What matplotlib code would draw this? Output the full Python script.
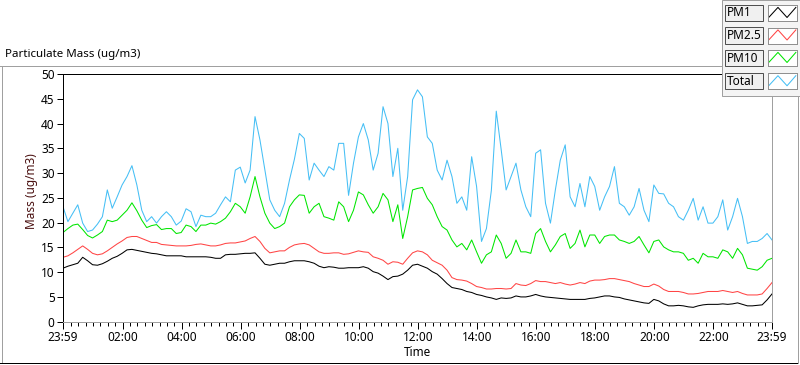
import matplotlib
matplotlib.use("Agg")
import matplotlib.pyplot as plt
from matplotlib.patches import Rectangle
from matplotlib.lines import Line2D

# ── Data (minutes after 23:59, 10-min steps) ─────────────────────────────────
MINUTES = list(range(0, 1441, 10))

TOTAL = [
    23.2, 20.2, 21.9, 23.6, 19.9, 18.2, 18.5, 19.7, 21.2, 26.6, 22.9, 25.2,
    27.6, 29.3, 31.5, 27.6, 22.5, 20.2, 21.2, 19.9, 21.2, 22.2, 21.2, 19.5,
    20.3, 22.8, 22.2, 19.2, 21.5, 21.2, 21.2, 21.9, 23.6, 25.2, 24.2, 30.6,
    31.2, 28.0, 30.6, 41.4, 36.7, 30.6, 24.6, 22.5, 21.2, 23.9, 28.6, 32.8,
    38.0, 37.0, 28.6, 32.0, 30.6, 29.3, 31.3, 30.6, 36.0, 36.0, 25.5, 32.0,
    37.3, 40.0, 36.7, 30.6, 34.0, 43.4, 40.0, 29.3, 35.0, 22.5, 29.3, 44.8,
    46.8, 45.4, 37.3, 36.0, 30.6, 28.6, 32.6, 29.3, 23.9, 25.2, 22.5, 33.3,
    27.3, 16.2, 18.8, 26.5, 42.5, 34.7, 26.6, 29.3, 32.0, 26.6, 23.2, 21.2,
    34.0, 34.7, 23.9, 19.9, 26.6, 32.6, 35.7, 25.2, 23.2, 27.9, 23.2, 29.3,
    27.3, 22.5, 25.2, 27.3, 31.3, 23.9, 23.2, 21.5, 23.2, 26.9, 22.5, 20.2,
    27.6, 25.9, 25.8, 23.9, 23.2, 21.2, 20.5, 22.5, 24.9, 20.5, 23.2, 19.9,
    19.9, 21.2, 24.6, 18.5, 21.2, 24.9, 21.2, 15.8, 16.2, 16.2, 16.8, 17.8,
    16.5,
]

PM10 = [
    18.0, 18.8, 19.5, 19.7, 18.6, 17.4, 16.9, 17.5, 18.2, 20.5, 20.2, 20.5,
    21.5, 22.5, 24.0, 22.4, 20.5, 19.0, 19.4, 19.6, 18.6, 18.8, 18.8, 17.8,
    18.0, 19.5, 19.2, 18.2, 19.5, 19.5, 19.9, 19.7, 20.2, 20.9, 22.2, 23.9,
    23.2, 21.9, 25.2, 29.3, 25.2, 21.9, 19.9, 18.8, 19.2, 19.9, 23.2, 24.6,
    25.6, 25.5, 21.9, 23.2, 23.9, 21.2, 20.9, 20.5, 24.2, 23.2, 20.2, 22.5,
    26.2, 25.6, 23.6, 21.9, 23.2, 25.9, 24.6, 20.2, 23.6, 16.8, 21.2, 26.6,
    26.9, 27.1, 24.9, 23.6, 21.2, 19.2, 18.5, 16.5, 15.1, 15.8, 14.5, 16.5,
    14.1, 11.8, 13.5, 14.1, 17.5, 15.8, 12.8, 13.8, 16.5, 14.1, 14.1, 13.8,
    17.8, 18.8, 16.2, 14.1, 15.5, 17.2, 17.8, 14.8, 15.8, 18.5, 15.1, 17.5,
    17.5, 15.8, 17.2, 17.5, 17.5, 16.5, 16.2, 15.8, 16.2, 17.2, 15.5, 13.9,
    16.2, 16.5, 15.1, 14.5, 14.1, 14.1, 13.8, 12.4, 12.8, 11.8, 13.8, 13.1,
    13.1, 12.8, 14.5, 14.1, 12.8, 14.8, 13.5, 10.8, 10.6, 10.4, 11.1, 12.4,
    12.8,
]

PM25 = [
    13.0, 13.3, 13.9, 14.6, 15.3, 14.6, 13.8, 13.5, 13.7, 14.3, 15.0, 15.7,
    16.3, 17.0, 17.2, 17.2, 16.8, 16.4, 16.0, 16.0, 15.6, 15.5, 15.4, 15.3,
    15.3, 15.3, 15.4, 15.6, 15.7, 15.5, 15.3, 15.3, 15.5, 15.8, 15.9, 15.9,
    16.1, 16.3, 16.8, 17.2, 16.2, 14.8, 13.9, 14.1, 14.3, 14.3, 15.0, 15.5,
    15.7, 15.8, 15.5, 14.8, 14.1, 13.8, 13.8, 13.9, 13.9, 13.6, 13.7, 14.0,
    14.3, 14.1, 14.0, 13.1, 12.8, 12.4, 11.6, 12.1, 12.0, 11.6, 12.8, 13.9,
    14.3, 14.1, 13.5, 12.4, 11.9, 11.4, 10.4, 8.9, 8.5, 8.4, 8.2, 7.7,
    7.1, 6.9, 6.6, 6.6, 6.7, 6.7, 6.6, 6.7, 7.7, 7.4, 7.3, 7.7,
    8.3, 8.1, 8.1, 7.9, 7.7, 7.9, 7.6, 7.4, 7.6, 7.9, 7.7, 8.2,
    8.4, 8.4, 8.5, 8.7, 8.7, 8.5, 8.3, 8.1, 7.7, 7.4, 7.1, 7.1,
    7.6, 7.2, 6.5, 6.1, 6.1, 6.1, 5.9, 5.6, 5.6, 5.7, 5.9, 6.1,
    6.1, 6.1, 6.3, 6.1, 5.9, 6.1, 5.7, 5.4, 5.4, 5.4, 5.6, 6.7,
    7.9,
]

PM1 = [
    10.8, 11.2, 11.5, 11.8, 13.0, 12.3, 11.5, 11.4, 11.7, 12.2, 12.8, 13.2,
    13.8, 14.5, 14.6, 14.4, 14.2, 14.0, 13.8, 13.7, 13.5, 13.3, 13.3, 13.3,
    13.3, 13.1, 13.1, 13.1, 13.1, 13.1, 13.0, 12.8, 12.8, 13.5, 13.6, 13.6,
    13.7, 13.8, 13.8, 13.9, 12.8, 11.6, 11.4, 11.6, 11.8, 11.8, 12.1, 12.3,
    12.3, 12.3, 12.1, 11.8, 11.2, 10.9, 11.1, 11.0, 10.8, 10.8, 10.9, 10.9,
    10.9, 11.1, 10.8, 10.1, 9.8, 9.2, 8.5, 9.1, 9.2, 9.6, 10.4, 11.4,
    11.6, 11.2, 10.8, 10.1, 9.6, 8.7, 7.7, 6.9, 6.7, 6.5, 6.1, 5.9,
    5.5, 5.3, 5.0, 4.8, 4.5, 4.8, 4.7, 4.8, 5.2, 5.0, 5.0, 5.2,
    5.5, 5.2, 5.0, 4.9, 4.8, 4.7, 4.6, 4.5, 4.5, 4.5, 4.5, 4.7,
    4.8, 5.0, 5.2, 5.2, 5.0, 4.9, 4.6, 4.4, 4.2, 4.0, 3.8, 3.7,
    4.5, 4.2, 3.6, 3.2, 3.2, 3.3, 3.2, 3.0, 2.9, 3.2, 3.4, 3.5,
    3.5, 3.5, 3.6, 3.5, 3.6, 3.8, 3.5, 3.2, 3.2, 3.3, 3.4, 4.4,
    5.6,
]

SERIES_NAMES = ["PM1", "PM2.5", "PM10", "Total"]
SERIES_COLORS = ["#000000", "#ff4545", "#00e600", "#45bff5"]

X_TICKS = [0, 121, 241, 361, 481, 601, 721, 841, 961, 1081, 1201, 1321, 1440]
X_TICK_LABELS = ["23:59", "02:00", "04:00", "06:00", "08:00", "10:00", "12:00",
                 "14:00", "16:00", "18:00", "20:00", "22:00", "23:59"]
Y_TICKS = [0, 5, 10, 15, 20, 25, 30, 35, 40, 45, 50]

# ── Layout helpers (pixel -> figure coords) ──────────────────────────────────
W, H = 800, 365
LW = 0.72  # one pixel at 100 dpi


def fx(px):
    return px / W


def fy(py):
    return 1 - py / H


def frame_line(x0, y0, x1, y1, color):
    fig.add_artist(Line2D([fx(x0), fx(x1)], [fy(y0), fy(y1)],
                          transform=fig.transFigure, color=color, lw=LW))


plt.rcParams["font.family"] = ["Noto Sans", "DejaVu Sans"]

fig = plt.figure(figsize=(W / 100, H / 100), dpi=100)
fig.patch.set_facecolor("white")

# outer frame
frame_line(0, 65.5, 722, 65.5, "#a0a0a0")
frame_line(1.5, 65.5, 1.5, 362.5, "#a0a0a0")
frame_line(0, 362.5, 798, 362.5, "#000000")
frame_line(797.5, 96, 797.5, 362.5, "#a0a0a0")

fig.text(fx(5), fy(55), "Particulate Mass (ug/m3)", fontsize=8.3,
         ha="left", va="center", color="black")

# ── Main plot ────────────────────────────────────────────────────────────────
ax = fig.add_axes([fx(63), fy(321.7), fx(772) - fx(63), fy(74) - fy(321.7)])
for vals, color in zip([PM1, PM25, PM10, TOTAL], SERIES_COLORS):
    ax.plot(MINUTES, vals, color=color, lw=0.75)

ax.set_xlim(0, 1440)
ax.set_ylim(0, 50)
ax.set_xticks(X_TICKS)
ax.set_xticklabels(X_TICK_LABELS)
minor = [m for m in range(1, 1440, 15) if m not in X_TICKS]
ax.set_xticks(minor, minor=True)
ax.set_yticks(Y_TICKS)

ax.tick_params(axis="x", which="major", direction="out", length=5, width=LW,
               labelsize=8.5, pad=2)
ax.tick_params(axis="x", which="minor", direction="out", length=3, width=LW)
ax.tick_params(axis="y", direction="out", length=4, width=LW,
               labelsize=8.5, pad=2)

for side in ["top", "left"]:
    ax.spines[side].set_color("black")
for side in ["right", "bottom"]:
    ax.spines[side].set_color("#a0a0a0")
for sp in ax.spines.values():
    sp.set_linewidth(LW)

ax.set_ylabel("Mass (ug/m3)", fontsize=8.5, color="#4a1010", va="center")
ax.yaxis.set_label_coords((31.5 - 63) / 709, (321.7 - 191) / 247.7)
ax.set_xlabel("Time", fontsize=8.5, color="black", va="center")
ax.xaxis.set_label_coords(0.5, (321.7 - 353) / 247.7)

# ── Legend (LabVIEW style plot legend) ───────────────────────────────────────
fig.add_artist(Rectangle((fx(722), fy(96)), fx(78), 96 / H,
                         transform=fig.transFigure, facecolor="#f4f4f4",
                         edgecolor="#a0a0a0", lw=LW, zorder=5))
row_tops = [5, 27.5, 50, 73.3]
for name, color, top in zip(SERIES_NAMES, SERIES_COLORS, row_tops):
    h = 16
    fig.add_artist(Rectangle((fx(725), fy(top + h)), fx(38), h / H,
                             transform=fig.transFigure, facecolor="#f0f0f0",
                             edgecolor="#505050", lw=LW, zorder=6))
    fig.text(fx(727), fy(top + h / 2), name, fontsize=8.5, ha="left",
             va="center", color="black", zorder=7)
    sw = fig.add_axes([fx(768.3), fy(top + h), fx(28.4), h / H], zorder=7)
    sw.set_xlim(0, 1)
    sw.set_ylim(0, 1)
    sw.set_xticks([])
    sw.set_yticks([])
    for sp in sw.spines.values():
        sp.set_color("#909090")
        sp.set_linewidth(LW)
    sw.plot([0.03, 0.34, 0.66, 0.97], [0.25, 0.85, 0.22, 0.85],
            color=color, lw=0.75)

fig.savefig("out.png", dpi=100)
